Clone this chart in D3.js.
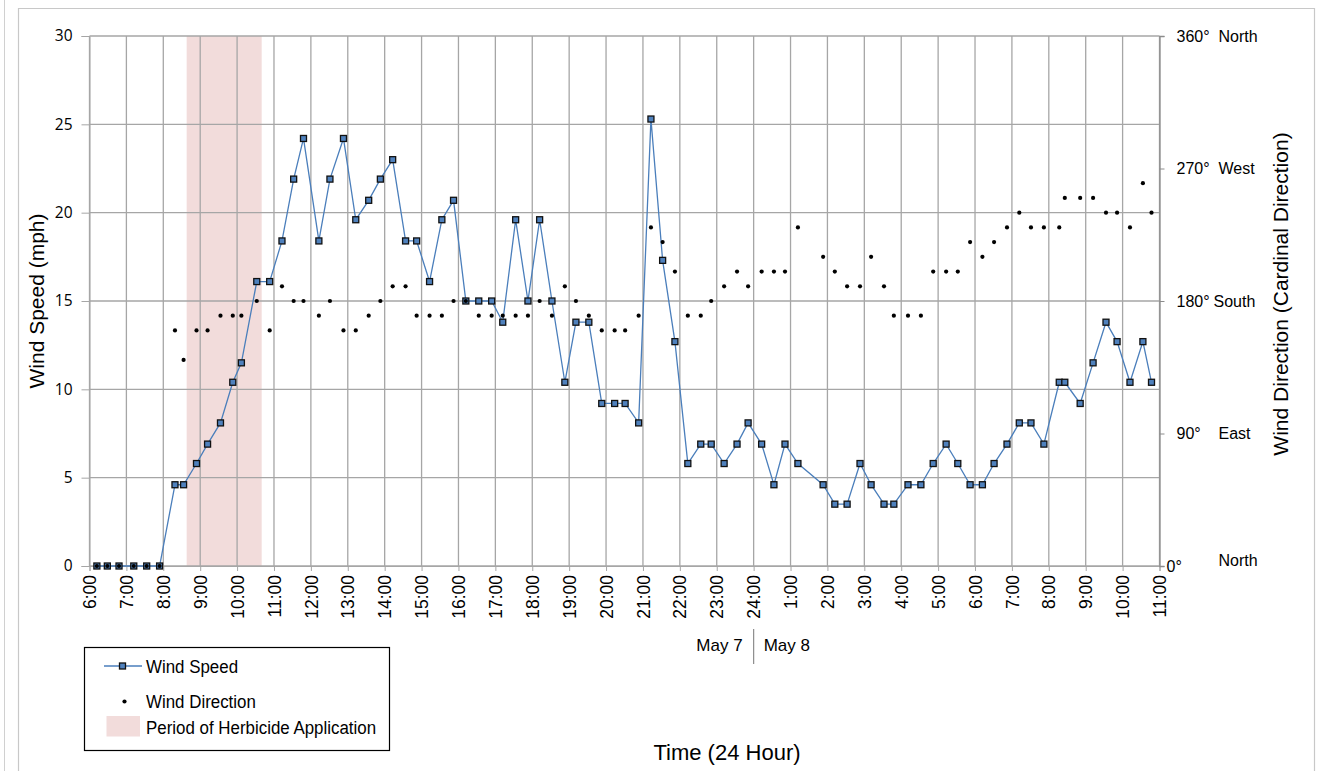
<!DOCTYPE html>
<html><head><meta charset="utf-8">
<script src="https://cdn.jsdelivr.net/npm/d3@7"></script>
<style>body{margin:0;background:#fff}svg{display:block;font-family:"Liberation Sans",Arial,sans-serif}</style>
</head><body><svg id="c" width="1317" height="771"></svg>
<script>
const times = ["6:12","6:29","6:48","7:12","7:33","7:54","8:19","8:33","8:54","9:12","9:33","9:53","10:07","10:32","10:53","11:13","11:32","11:48","12:13","12:31","12:53","13:13","13:34","13:53","14:13","14:34","14:52","15:13","15:33","15:52","16:12","16:33","16:54","17:12","17:33","17:53","18:12","18:32","18:53","19:11","19:32","19:53","20:14","20:31","20:53","21:13","21:32","21:52","22:13","22:34","22:51","23:12","23:33","23:51","0:13","0:33","0:51","1:12","1:53","2:12","2:32","2:53","3:11","3:32","3:48","4:11","4:32","4:52","5:13","5:32","5:52","6:12","6:31","6:52","7:12","7:31","7:52","8:17","8:26","8:51","9:12","9:33","9:51","10:12","10:33","10:47"];
const windSpeed = [0,0,0,0,0,0,4.6,4.6,5.8,6.9,8.1,10.4,11.5,16.1,16.1,18.4,21.9,24.2,18.4,21.9,24.2,19.6,20.7,21.9,23.0,18.4,18.4,16.1,19.6,20.7,15.0,15.0,15.0,13.8,19.6,15.0,19.6,15.0,10.4,13.8,13.8,9.2,9.2,9.2,8.1,25.3,17.3,12.7,5.8,6.9,6.9,5.8,6.9,8.1,6.9,4.6,6.9,5.8,4.6,3.5,3.5,5.8,4.6,3.5,3.5,4.6,4.6,5.8,6.9,5.8,4.6,4.6,5.8,6.9,8.1,8.1,6.9,10.4,10.4,9.2,11.5,13.8,12.7,10.4,12.7,10.4];
const windDirection = [0,0,0,0,0,0,160,140,160,160,170,170,170,180,160,190,180,180,170,180,160,160,170,180,190,190,170,170,170,180,180,170,170,170,170,170,180,170,190,180,170,160,160,160,170,230,220,200,170,170,180,190,200,190,200,200,200,230,210,200,190,190,210,190,170,170,170,200,200,200,220,210,220,230,240,230,230,230,250,250,250,240,240,230,260,240];
const hourTicks = ["6:00","7:00","8:00","9:00","10:00","11:00","12:00","13:00","14:00","15:00","16:00","17:00","18:00","19:00","20:00","21:00","22:00","23:00","24:00","1:00","2:00","3:00","4:00","5:00","6:00","7:00","8:00","9:00","10:00","11:00"];
const speedTicks = [0,5,10,15,20,25,30];
const dirTicks = [0,90,180,270,360];
const dirLabels = ["0°","90°","180°","270°","360°"];
const dirNames = ["North","East","South","West","North"];
const applicationPeriod = ["8:38","10:40"];
const dayLabels = ["May 7","May 8"];

function toHours(arr){let off=0,prev=-1;return arr.map(s=>{const [h,m]=s.split(":").map(Number);let v=h+m/60;if(v+off<prev)off+=24;v+=off;prev=v;return v;});}
const hrs = toHours(times);
const data = hrs.map((h,i)=>({h,s:windSpeed[i],d:windDirection[i]}));
const band = toHours(applicationPeriod);

const svg = d3.select("#c");
const L=89.5,R=1159.5,T=36,B=566;
const x = d3.scaleLinear().domain([6,35]).range([L,R]);
const yL = d3.scaleLinear().domain([0,30]).range([B,T]);
const yR = d3.scaleLinear().domain([0,360]).range([B,T]);
const FONT = "Liberation Sans, Arial, sans-serif";

// outer frame
svg.append("path").attr("d","M18.5,771 V8.5 H1314.5 V771").attr("fill","none").attr("stroke","#c8c8c8").attr("stroke-width",1.2);
svg.append("line").attr("x1",4.5).attr("x2",4.5).attr("y1",0).attr("y2",771).attr("stroke","#d0d0d0").attr("stroke-width",1);

// application band
svg.append("rect").attr("x",x(band[0])).attr("y",T).attr("width",x(band[1])-x(band[0])).attr("height",B-T).attr("fill","#f2dcdb");

// gridlines
const grid = svg.append("g").attr("stroke","#a6a6a6").attr("stroke-width",1.3);
d3.range(6,36).forEach(h=>grid.append("line").attr("x1",x(h)).attr("x2",x(h)).attr("y1",T).attr("y2",B));
speedTicks.forEach(v=>grid.append("line").attr("x1",L).attr("x2",R).attr("y1",yL(v)).attr("y2",yL(v)));

// left axis
const la = svg.append("g").attr("transform",`translate(${L},0)`).call(d3.axisLeft(yL).tickValues(speedTicks).tickSize(8).tickPadding(9));
la.select(".domain").attr("stroke","#a6a6a6");
la.selectAll(".tick line").attr("stroke","#a6a6a6");
la.selectAll("text").attr("font-size",15.5).attr("fill","#000").attr("font-family","Open Sans, sans-serif");

// bottom axis
const xa = svg.append("g").attr("transform",`translate(0,${B})`).call(d3.axisBottom(x).tickValues(d3.range(6,36)).tickFormat((d,i)=>hourTicks[i]).tickSize(5));
xa.select(".domain").attr("stroke","#a6a6a6");
xa.selectAll(".tick line").attr("stroke","#a6a6a6");
xa.selectAll("text").attr("font-size",17.5).attr("fill","#000").attr("font-family",FONT)
  .attr("transform","rotate(-90)").attr("text-anchor","end").attr("x",-9).attr("y",0).attr("dy","0.35em");

// right axis
const ra = svg.append("g").attr("transform",`translate(${R},0)`).call(d3.axisRight(yR).tickValues(dirTicks).tickSize(5).tickFormat(()=>""));
ra.select(".domain").attr("stroke","#8c8c8c").attr("stroke-width",1.3);
ra.selectAll(".tick line").attr("stroke","#8c8c8c");
dirTicks.forEach((v,i)=>{
  const y=yR(v);
  svg.append("text").attr("x",v===0?R+7:R+17).attr("y",y).attr("dy","0.35em").attr("font-size",16).text(dirLabels[i]);
  svg.append("text").attr("x",v===180?R+54:R+59).attr("y",v===0?y-6:y).attr("dy","0.35em").attr("font-size",16).text(dirNames[i]);
});

// line + markers
svg.append("path").datum(data).attr("fill","none").attr("stroke","#4a7ebb").attr("stroke-width",1.3)
  .attr("d",d3.line().x(d=>x(d.h)).y(d=>yL(d.s)));
svg.append("g").selectAll("rect").data(data).join("rect")
  .attr("x",d=>x(d.h)-3).attr("y",d=>yL(d.s)-3).attr("width",6).attr("height",6)
  .attr("fill","#4f81bd").attr("stroke","#111").attr("stroke-width",1.3);
svg.append("g").selectAll("circle").data(data).join("circle")
  .attr("cx",d=>x(d.h)).attr("cy",d=>yR(d.d)).attr("r",2.1).attr("fill","#000");

// axis titles
svg.append("text").attr("transform",`translate(44,301) rotate(-90)`).attr("text-anchor","middle").attr("font-size",21).text("Wind Speed (mph)");
svg.append("text").attr("transform",`translate(1288,294) rotate(-90)`).attr("text-anchor","middle").attr("font-size",21).text("Wind Direction (Cardinal Direction)");
svg.append("text").attr("x",727).attr("y",760).attr("text-anchor","middle").attr("font-size",22).text("Time (24 Hour)");

// day labels
const mid = x(24);
svg.append("line").attr("x1",mid).attr("x2",mid).attr("y1",629).attr("y2",664).attr("stroke","#8c8c8c").attr("stroke-width",1.2);
svg.append("text").attr("x",mid-11).attr("y",645).attr("dy","0.35em").attr("text-anchor","end").attr("font-size",17).text(dayLabels[0]);
svg.append("text").attr("x",mid+10).attr("y",645).attr("dy","0.35em").attr("font-size",17).text(dayLabels[1]);

// legend
const lg = svg.append("g");
lg.append("rect").attr("x",84.5).attr("y",647.5).attr("width",305).attr("height",103).attr("fill","#fff").attr("stroke","#000").attr("stroke-width",1.2);
lg.append("line").attr("x1",104).attr("x2",142).attr("y1",666).attr("y2",666).attr("stroke","#4a7ebb").attr("stroke-width",1.3);
lg.append("rect").attr("x",119.5).attr("y",663).attr("width",6).attr("height",6).attr("fill","#4f81bd").attr("stroke","#111").attr("stroke-width",1.3);
lg.append("circle").attr("cx",124.5).attr("cy",701.5).attr("r",2.1).attr("fill","#000");
lg.append("rect").attr("x",106.5).attr("y",716).attr("width",33.5).attr("height",20.5).attr("fill","#f2dcdb");
[["Wind Speed",666],["Wind Direction",701],["Period of Herbicide Application",727]].forEach(([t,y])=>
  lg.append("text").attr("transform",`translate(146,${y}) scale(0.89,1)`).attr("dy","0.35em").attr("font-size",19).text(t));
</script></body></html>
